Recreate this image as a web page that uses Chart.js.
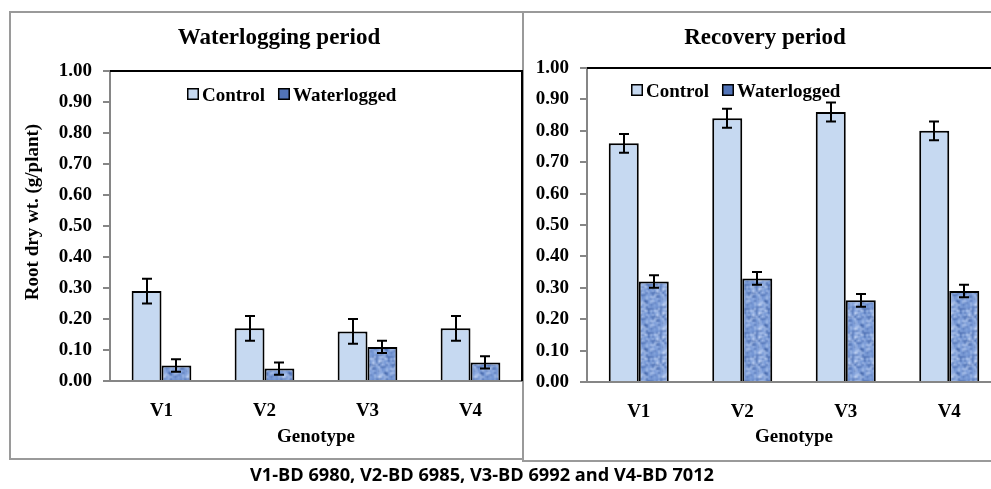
<!DOCTYPE html>
<html>
<head>
<meta charset="utf-8">
<title>Root dry weight</title>
<script src="https://cdn.jsdelivr.net/npm/chart.js@4"></script>
<style>
  html, body { margin: 0; padding: 0; background: #fff; }
  body { width: 991px; height: 489px; overflow: hidden; position: relative; }
  .panel { position: absolute; box-sizing: border-box; border: 2px solid #9a9a9a; }
  #p1 { left: 9px; top: 11px; width: 515px; height: 449px; }
  #p2 { left: 522px; top: 11px; width: 520px; height: 451px; }
  canvas { position: absolute; top: 0; }
  #c1 { left: 0; }
  #c2 { left: 524px; }
  #note { position: absolute; left: 0; width: 964px; top: 463px; text-align: center;
          font: bold 18.2px "Open Sans", sans-serif; line-height: 22px; color: #000; }
</style>
</head>
<body>
<div class="panel" id="p1"></div>
<div class="panel" id="p2"></div>
<canvas id="c1" width="530" height="489"></canvas>
<canvas id="c2" width="540" height="489"></canvas>
<div id="note">V1-BD 6980, V2-BD 6985, V3-BD 6992 and V4-BD 7012</div>
<script>
// Genotypes and series
const genotypes = ['V1', 'V2', 'V3', 'V4'];
const seriesNames = ['Control', 'Waterlogged'];

// Root dry weight (g/plant) during the waterlogging period
const wlControl = [0.29, 0.17, 0.16, 0.17];
const wlControlErr = [0.04, 0.04, 0.04, 0.04];
const wlWaterlogged = [0.05, 0.04, 0.11, 0.06];
const wlWaterloggedErr = [0.02, 0.02, 0.02, 0.02];

// Root dry weight (g/plant) during the recovery period
const recControl = [0.76, 0.84, 0.86, 0.80];
const recControlErr = [0.03, 0.03, 0.03, 0.03];
const recWaterlogged = [0.32, 0.33, 0.26, 0.29];
const recWaterloggedErr = [0.02, 0.02, 0.02, 0.02];

// Axis range and tick spacing
const yMin = 0, yMax = 1, yStep = 0.1;

const SERIF = '"Liberation Serif", "Times New Roman", serif';
const AXIS_GREY = '#868686';
const CONTROL_FILL = '#c6d9f1';
const LOGGED_KEY = '#5274b8';

// Soft mottled blue texture for the waterlogged bars (seamless tile)
function hash(x, y, s) {
  let h = (x * 374761393 + y * 668265263 + s * 2147483647) >>> 0;
  h = Math.imul(h ^ (h >>> 13), 1274126177) >>> 0;
  return (h ^ (h >>> 16)) >>> 0;
}
function noiseLayer(n, scale, shades, seed) {
  // small colour grid with a wrapped border, scaled up smoothly, centre cropped
  const src = document.createElement('canvas');
  src.width = n + 2; src.height = n + 2;
  const s = src.getContext('2d');
  for (let y = -1; y <= n; y++) {
    for (let x = -1; x <= n; x++) {
      const wx = (x + n) % n, wy = (y + n) % n;
      s.fillStyle = shades[hash(wx, wy, seed) % shades.length];
      s.fillRect(x + 1, y + 1, 1, 1);
    }
  }
  const big = document.createElement('canvas');
  big.width = (n + 2) * scale; big.height = (n + 2) * scale;
  const b = big.getContext('2d');
  b.imageSmoothingEnabled = true;
  b.drawImage(src, 0, 0, big.width, big.height);
  return { canvas: big, offset: scale * 1.5 - scale / 2, size: n * scale };
}
function makeTexture() {
  const size = 24;
  const tile = document.createElement('canvas');
  tile.width = size; tile.height = size;
  const t = tile.getContext('2d');
  const coarse = noiseLayer(8, 3, ['#4d70b4', '#6d8fcf', '#7f9fd9', '#7f9fd9', '#9ab4e6', '#b9cdf0'], 7);
  t.drawImage(coarse.canvas, coarse.offset, coarse.offset, size, size, 0, 0, size, size);
  const fine = noiseLayer(12, 2, ['#3e5fa3', '#86a5dc', '#c3d4f2', '#7698d6'], 19);
  t.globalAlpha = 0.45;
  t.drawImage(fine.canvas, fine.offset, fine.offset, size, size, 0, 0, size, size);
  t.globalAlpha = 1;
  return tile;
}
const textureTile = makeTexture();

// Frame, error bars, titles and legend drawn on top of the chart
const panelDecor = {
  id: 'panelDecor',
  beforeDatasetsDraw(chart) {
    const { ctx, chartArea: a } = chart;
    ctx.save();
    ctx.strokeStyle = '#000';
    ctx.lineWidth = 2;
    ctx.beginPath();
    ctx.moveTo(a.left, a.top);
    ctx.lineTo(a.right, a.top);
    ctx.lineTo(a.right, a.bottom);
    ctx.stroke();
    ctx.restore();
  },
  afterDatasetsDraw(chart) {
    const { ctx } = chart;
    const ys = chart.scales.y;
    ctx.save();
    ctx.strokeStyle = '#000';
    ctx.lineWidth = 2;
    chart.data.datasets.forEach((ds, i) => {
      const meta = chart.getDatasetMeta(i);
      meta.data.forEach((bar, j) => {
        const v = ds.data[j], e = ds.errors[j];
        const yt = ys.getPixelForValue(v + e);
        const yb = ys.getPixelForValue(v - e);
        const x = Math.round(bar.x);
        ctx.beginPath();
        ctx.moveTo(x, yt); ctx.lineTo(x, yb);
        ctx.moveTo(x - 5, yt); ctx.lineTo(x + 5, yt);
        ctx.moveTo(x - 5, yb); ctx.lineTo(x + 5, yb);
        ctx.stroke();
      });
    });
    ctx.restore();
  },
  afterDraw(chart, args, o) {
    const { ctx } = chart;
    ctx.save();
    ctx.fillStyle = '#000';
    // chart title
    ctx.font = 'bold 23px ' + SERIF;
    ctx.textAlign = 'center';
    ctx.textBaseline = 'alphabetic';
    ctx.fillText(o.title, o.titleX, o.titleY);
    // vertical axis title
    if (o.yTitle) {
      ctx.save();
      ctx.translate(o.yTitleX, o.yTitleY);
      ctx.rotate(-Math.PI / 2);
      ctx.font = 'bold 19px ' + SERIF;
      ctx.textAlign = 'center';
      ctx.textBaseline = 'middle';
      ctx.fillText(o.yTitle, 0, 0);
      ctx.restore();
    }
    // legend
    ctx.font = 'bold 19px ' + SERIF;
    ctx.textAlign = 'left';
    ctx.textBaseline = 'alphabetic';
    let x = o.legendX;
    const base = o.legendY, box = o.boxSize;
    chart.data.datasets.forEach((ds) => {
      const by = base - 13;
      ctx.fillStyle = ds.legendFill;
      ctx.fillRect(x, by, box, box);
      ctx.strokeStyle = '#000';
      ctx.lineWidth = 1.5;
      ctx.strokeRect(x + 0.75, by + 0.75, box - 1.5, box - 1.5);
      ctx.fillStyle = '#000';
      ctx.fillText(ds.label, x + box + 3, base);
      x += box + 3 + ctx.measureText(ds.label).width + 13;
    });
    ctx.restore();
  }
};

function buildChart(canvasId, control, controlErr, logged, loggedErr, geo) {
  const ctx = document.getElementById(canvasId).getContext('2d');
  const pattern = ctx.createPattern(textureTile, 'repeat');
  return new Chart(ctx, {
    type: 'bar',
    data: {
      labels: genotypes,
      datasets: [
        { label: seriesNames[0], data: control, errors: controlErr,
          backgroundColor: CONTROL_FILL, legendFill: CONTROL_FILL,
          borderColor: '#000', borderWidth: 2 },
        { label: seriesNames[1], data: logged, errors: loggedErr,
          backgroundColor: pattern, legendFill: LOGGED_KEY,
          borderColor: '#000', borderWidth: 2 }
      ]
    },
    options: {
      responsive: false,
      animation: false,
      devicePixelRatio: 1,
      layout: { padding: { left: 0, top: geo.top, right: geo.right, bottom: 40 } },
      datasets: { bar: { categoryPercentage: 0.58, barPercentage: 1.0 } },
      plugins: {
        legend: { display: false },
        title: { display: false },
        tooltip: { enabled: false },
        panelDecor: geo.decor
      },
      scales: {
        x: {
          z: 1,
          grid: { display: false, drawTicks: false },
          border: { display: true, color: AXIS_GREY, width: 2 },
          ticks: { color: '#000', padding: 19, font: { family: SERIF, size: 19, weight: 'bold' } },
          title: { display: true, text: 'Genotype', color: '#000',
                   padding: { top: 0, bottom: 1 },
                   font: { family: SERIF, size: 19, weight: 'bold' } },
          afterFit(s) { s.height = geo.xHeight; }
        },
        y: {
          min: yMin, max: yMax,
          grid: { drawOnChartArea: false, drawTicks: true, tickLength: 7, color: AXIS_GREY, lineWidth: 2 },
          border: { display: true, color: AXIS_GREY, width: 2 },
          ticks: { stepSize: yStep, color: '#000', padding: geo.tickPad,
                   font: { family: SERIF, size: 19, weight: 'bold' },
                   callback: (v) => Number(v).toFixed(2) },
          afterFit(s) { s.width = geo.yWidth; }
        }
      }
    },
    plugins: [panelDecor]
  });
}

buildChart('c1', wlControl, wlControlErr, wlWaterlogged, wlWaterloggedErr, {
  top: 71, right: 8, xHeight: 68, yWidth: 110, tickPad: 11,
  decor: { title: 'Waterlogging period', titleX: 279, titleY: 44,
           yTitle: 'Root dry wt. (g/plant)', yTitleX: 33, yTitleY: 212,
           legendX: 187, legendY: 101, boxSize: 12 }
});

buildChart('c2', recControl, recControlErr, recWaterlogged, recWaterloggedErr, {
  top: 68, right: 63, xHeight: 67, yWidth: 63, tickPad: 11,
  decor: { title: 'Recovery period', titleX: 241, titleY: 44,
           yTitle: '', yTitleX: 0, yTitleY: 0,
           legendX: 107, legendY: 97, boxSize: 12 }
});
</script>
</body>
</html>
